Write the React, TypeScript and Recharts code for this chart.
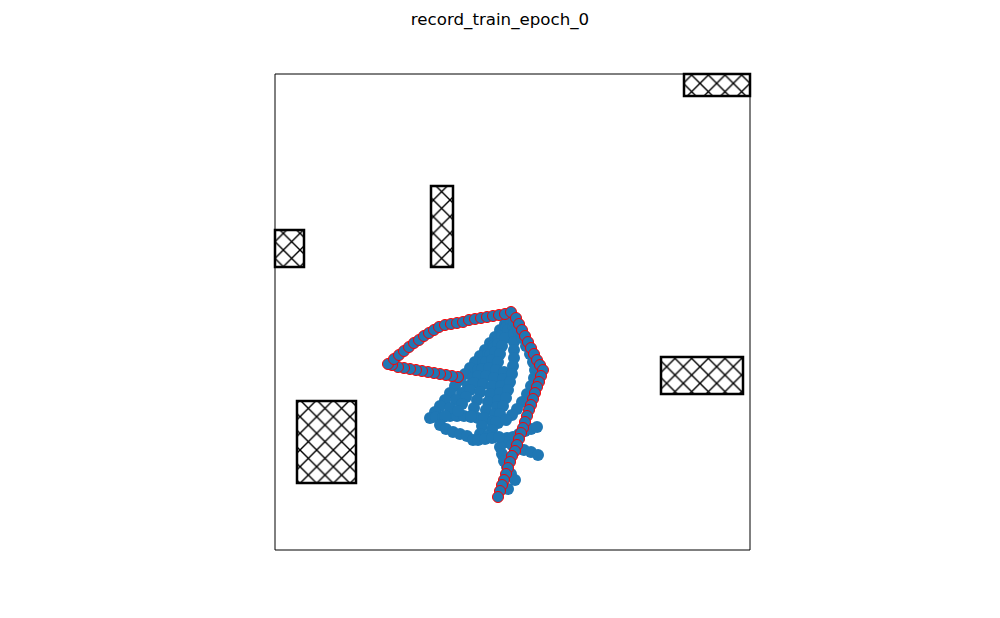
import React from 'react';
import { ScatterChart, Scatter, XAxis, YAxis, ReferenceArea } from 'recharts';

// world frame (arbitrary units), origin bottom-left of the map
const mapWidth = 475;
const mapHeight = 476;

const obstacles = [
  { x1: 409, x2: 475, y1: 454, y2: 476 },
  { x1: 0, x2: 29, y1: 283, y2: 320 },
  { x1: 156, x2: 178, y1: 283, y2: 364 },
  { x1: 386, x2: 468, y1: 156, y2: 193 },
  { x1: 22, x2: 81, y1: 67, y2: 149 },
];

// recorded (expert) trajectory, drawn with red edges
const recordPath = [
  { x: 183, y: 173 }, { x: 177, y: 174 }, { x: 171, y: 175 }, { x: 165, y: 176 }, { x: 159, y: 177 },
  { x: 153, y: 178 }, { x: 147, y: 179 }, { x: 141, y: 180 }, { x: 135, y: 181 }, { x: 129, y: 182 },
  { x: 123, y: 183 }, { x: 117, y: 185 }, { x: 113, y: 186 },
  { x: 119, y: 191 }, { x: 124, y: 195 }, { x: 129, y: 199 }, { x: 134, y: 203 }, { x: 139, y: 207 },
  { x: 144, y: 210 }, { x: 149, y: 214 }, { x: 154, y: 217 }, { x: 159, y: 220 }, { x: 164, y: 223 },
  { x: 170, y: 225 }, { x: 176, y: 226 }, { x: 182, y: 227 }, { x: 188, y: 228 }, { x: 194, y: 230 },
  { x: 200, y: 231 }, { x: 206, y: 232 }, { x: 212, y: 233 }, { x: 218, y: 234 }, { x: 224, y: 235 },
  { x: 230, y: 236 }, { x: 236, y: 238 },
  { x: 241, y: 232 }, { x: 244, y: 226 }, { x: 247, y: 220 }, { x: 250, y: 214 }, { x: 253, y: 208 },
  { x: 256, y: 202 }, { x: 259, y: 196 }, { x: 262, y: 190 }, { x: 265, y: 185 }, { x: 268, y: 180 },
  { x: 266, y: 174 }, { x: 264, y: 168 }, { x: 262, y: 163 }, { x: 260, y: 157 }, { x: 258, y: 151 },
  { x: 256, y: 145 }, { x: 254, y: 140 }, { x: 252, y: 134 }, { x: 250, y: 128 }, { x: 248, y: 122 },
  { x: 246, y: 117 }, { x: 244, y: 111 }, { x: 242, y: 105 }, { x: 240, y: 99 }, { x: 237, y: 94 },
  { x: 235, y: 88 }, { x: 233, y: 82 }, { x: 231, y: 76 }, { x: 229, y: 70 }, { x: 227, y: 65 },
  { x: 225, y: 59 }, { x: 223, y: 53 },
];

// agent rollouts
const rollout1 = [
  { x: 235, y: 232 }, { x: 230, y: 226 }, { x: 225, y: 220 }, { x: 220, y: 213 }, { x: 215, y: 207 },
  { x: 210, y: 200 }, { x: 205, y: 194 }, { x: 200, y: 188 }, { x: 195, y: 182 }, { x: 190, y: 176 },
  { x: 185, y: 170 }, { x: 180, y: 164 }, { x: 175, y: 157 }, { x: 170, y: 150 }, { x: 165, y: 144 },
  { x: 160, y: 138 }, { x: 155, y: 132 }, { x: 161, y: 133 }, { x: 168, y: 133 }, { x: 175, y: 134 },
  { x: 182, y: 134 }, { x: 189, y: 134 }, { x: 196, y: 133 }, { x: 203, y: 132 }, { x: 210, y: 131 },
  { x: 217, y: 129 }, { x: 223, y: 127 },
];
const rollout2 = [
  { x: 235, y: 228 }, { x: 229, y: 220 }, { x: 223, y: 212 }, { x: 218, y: 204 }, { x: 213, y: 196 },
  { x: 208, y: 188 }, { x: 203, y: 180 }, { x: 198, y: 172 }, { x: 193, y: 164 }, { x: 187, y: 157 },
  { x: 181, y: 150 }, { x: 175, y: 142 }, { x: 170, y: 134 }, { x: 165, y: 125 }, { x: 171, y: 121 },
  { x: 178, y: 118 }, { x: 185, y: 116 }, { x: 192, y: 114 }, { x: 198, y: 110 },
];
const rollout3 = [
  { x: 236, y: 228 }, { x: 233, y: 220 }, { x: 230, y: 212 }, { x: 227, y: 204 }, { x: 225, y: 196 },
  { x: 223, y: 188 }, { x: 221, y: 180 }, { x: 219, y: 172 }, { x: 217, y: 164 }, { x: 215, y: 156 },
  { x: 213, y: 148 }, { x: 211, y: 140 }, { x: 209, y: 132 }, { x: 207, y: 124 }, { x: 205, y: 116 },
];
const rollout4 = [
  { x: 238, y: 224 }, { x: 239, y: 216 }, { x: 239, y: 208 }, { x: 239, y: 200 }, { x: 239, y: 192 },
  { x: 238, y: 184 }, { x: 237, y: 176 }, { x: 235, y: 168 }, { x: 233, y: 160 }, { x: 231, y: 152 },
  { x: 228, y: 144 }, { x: 225, y: 136 }, { x: 221, y: 128 }, { x: 217, y: 120 }, { x: 213, y: 114 },
];
const rollout5 = [
  { x: 239, y: 228 }, { x: 243, y: 220 }, { x: 247, y: 212 }, { x: 251, y: 204 }, { x: 255, y: 196 },
  { x: 258, y: 188 }, { x: 260, y: 180 }, { x: 259, y: 172 }, { x: 256, y: 164 }, { x: 252, y: 156 },
  { x: 247, y: 148 }, { x: 242, y: 141 }, { x: 237, y: 135 }, { x: 231, y: 130 },
];
const rollout6 = [
  { x: 235, y: 230 }, { x: 231, y: 222 }, { x: 227, y: 214 }, { x: 223, y: 206 }, { x: 220, y: 198 },
  { x: 217, y: 190 }, { x: 214, y: 182 }, { x: 211, y: 174 }, { x: 208, y: 166 }, { x: 205, y: 158 },
  { x: 202, y: 150 }, { x: 199, y: 142 }, { x: 196, y: 134 },
];
const rollout7 = [
  { x: 232, y: 112 }, { x: 238, y: 113 }, { x: 244, y: 116 }, { x: 250, y: 119 }, { x: 256, y: 121 },
  { x: 262, y: 123 },
];
const rollout8 = [
  { x: 231, y: 108 }, { x: 237, y: 105 }, { x: 243, y: 102 }, { x: 249, y: 100 }, { x: 256, y: 98 },
  { x: 263, y: 95 },
];
const rollout9 = [
  { x: 225, y: 103 }, { x: 227, y: 96 }, { x: 229, y: 89 }, { x: 232, y: 83 }, { x: 236, y: 76 },
  { x: 240, y: 70 }, { x: 233, y: 61 },
];
const rollout10 = [
  { x: 203, y: 110 }, { x: 210, y: 111 }, { x: 217, y: 112 }, { x: 224, y: 113 },
];
const rollout11 = [
  { x: 235, y: 230 }, { x: 231, y: 223 }, { x: 227, y: 216 }, { x: 223, y: 209 }, { x: 219, y: 202 },
  { x: 215, y: 195 }, { x: 211, y: 188 }, { x: 207, y: 181 }, { x: 203, y: 174 }, { x: 199, y: 167 },
  { x: 195, y: 160 }, { x: 191, y: 153 }, { x: 187, y: 146 }, { x: 183, y: 139 },
];
const rollout12 = [
  { x: 229, y: 178 }, { x: 228, y: 171 }, { x: 226, y: 164 }, { x: 225, y: 157 }, { x: 223, y: 150 },
  { x: 222, y: 143 }, { x: 220, y: 136 }, { x: 218, y: 129 },
];

const rollouts = [
  rollout1, rollout2, rollout11, rollout6, rollout3, rollout12, rollout4, rollout5,
  rollout7, rollout8, rollout9, rollout10,
];

const BLUE = '#1f77b4';

const BlueDot = (props: any) => <circle cx={props.cx} cy={props.cy} r={6} fill={BLUE} />;
const RedDot = (props: any) => (
  <circle cx={props.cx} cy={props.cy} r={5.5} fill={BLUE} stroke="#ff0000" strokeWidth={1} />
);

const App = () => {
  return (
    <div style={{ position: 'absolute', left: 0, top: 0, width: 1000, height: 618, background: '#fff' }}>
      <svg width={1000} height={40} style={{ position: 'absolute', left: 0, top: 0 }}>
        <text x={500} y={25} textAnchor="middle" fontFamily="DejaVu Sans" fontSize={16.67} fill="#000">
          record_train_epoch_0
        </text>
      </svg>
      <div style={{ position: 'absolute', left: 0, top: 0 }}>
        <ScatterChart width={1000} height={618} margin={{ top: 74, right: 250, bottom: 68, left: 275 }}>
          <defs>
            <pattern id="hatch" patternUnits="userSpaceOnUse" width={16.667} height={16.667}>
              <rect width={16.667} height={16.667} fill="#fff" />
              <path d="M0,0 L16.667,16.667 M16.667,0 L0,16.667" stroke="#000" strokeWidth={1.4} />
            </pattern>
          </defs>
          <XAxis type="number" dataKey="x" domain={[0, mapWidth]} hide allowDataOverflow />
          <YAxis type="number" dataKey="y" domain={[0, mapHeight]} hide allowDataOverflow />
          {obstacles.map((o, i) => (
            <ReferenceArea
              key={`obs-${i}`}
              x1={o.x1}
              x2={o.x2}
              y1={o.y1}
              y2={o.y2}
              fill="url(#hatch)"
              fillOpacity={1}
              stroke="#000"
              strokeWidth={2.5}
            />
          ))}
          {rollouts.map((r, i) => (
            <Scatter key={`roll-${i}`} data={r} shape={BlueDot} isAnimationActive={false} />
          ))}
          <Scatter data={recordPath} shape={RedDot} isAnimationActive={false} />
          <ReferenceArea x1={0} x2={mapWidth} y1={0} y2={mapHeight} fill="none" stroke="#000" strokeWidth={1} />
        </ScatterChart>
      </div>
    </div>
  );
};

export default App;
